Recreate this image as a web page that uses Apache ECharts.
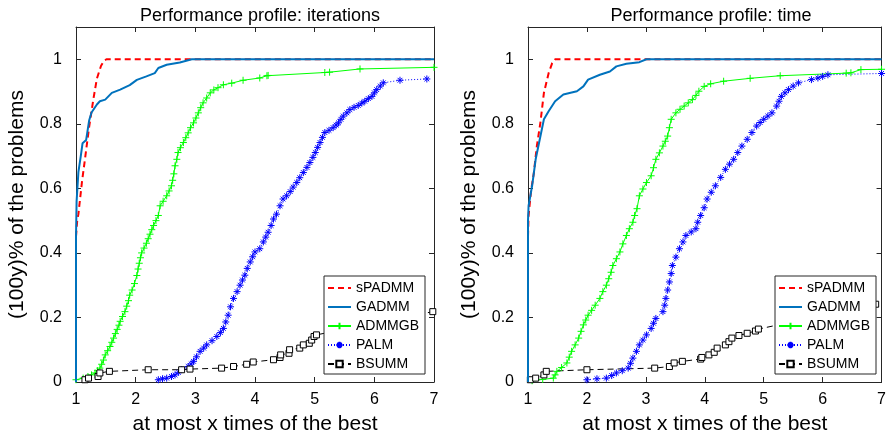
<!DOCTYPE html>
<html>
<head>
<meta charset="utf-8">
<script src="https://cdn.jsdelivr.net/npm/echarts@6/dist/echarts.min.js"></script>
<style>html,body{margin:0;padding:0;background:#fff}#c{width:889px;height:440px}</style>
</head>
<body>
<div id="c"></div>
<script>
// ---------- data ----------
const seriesNames = ['sPADMM', 'GADMM', 'ADMMGB', 'PALM', 'BSUMM'];
const xTickLabels = ['1', '2', '3', '4', '5', '6', '7'];
const yTickLabels = ['0', '0.2', '0.4', '0.6', '0.8', '1'];
const panelTitles = ['Performance profile: iterations', 'Performance profile: time'];

// iterations panel
const itSPADMM = [[1,0.45],[1.02,0.50],[1.04,0.52],[1.07,0.57],[1.10,0.62],[1.15,0.69],[1.22,0.79],[1.29,0.875],[1.35,0.94],[1.42,0.98],[1.47,0.995],[1.51,1],[7,1]];
const itGADMM = [[1,0],[1,0.45],[1.01,0.56],[1.04,0.65],[1.08,0.70],[1.11,0.74],[1.17,0.75],[1.22,0.81],[1.26,0.835],[1.35,0.86],[1.40,0.87],[1.49,0.875],[1.60,0.896],[1.74,0.906],[1.90,0.92],[2.02,0.936],[2.18,0.947],[2.32,0.957],[2.38,0.973],[2.52,0.983],[2.74,0.99],[2.94,1],[7,1]];
const itADMMGB = [[1.00,0.007],[1.12,0.012],[1.20,0.017],[1.26,0.022],[1.32,0.028],[1.36,0.035],[1.40,0.043],[1.43,0.055],[1.46,0.068],[1.49,0.084],[1.53,0.097],[1.57,0.110],[1.60,0.123],[1.63,0.136],[1.66,0.150],[1.69,0.163],[1.72,0.176],[1.74,0.188],[1.78,0.203],[1.82,0.218],[1.85,0.235],[1.88,0.252],[1.90,0.269],[1.94,0.285],[1.98,0.305],[2.02,0.330],[2.04,0.350],[2.06,0.368],[2.08,0.385],[2.10,0.400],[2.14,0.415],[2.18,0.430],[2.21,0.444],[2.24,0.458],[2.27,0.472],[2.30,0.485],[2.34,0.500],[2.38,0.516],[2.41,0.546],[2.46,0.560],[2.52,0.577],[2.56,0.592],[2.60,0.608],[2.62,0.625],[2.64,0.645],[2.66,0.670],[2.69,0.690],[2.71,0.711],[2.75,0.726],[2.80,0.742],[2.84,0.757],[2.88,0.772],[2.92,0.788],[2.97,0.803],[3.01,0.818],[3.05,0.834],[3.09,0.850],[3.13,0.865],[3.19,0.880],[3.25,0.896],[3.31,0.905],[3.38,0.912],[3.47,0.921],[3.61,0.926],[3.80,0.935],[4.08,0.942],[4.20,0.949],[4.22,0.950],[5.17,0.959],[5.25,0.960],[5.76,0.970],[7.00,0.975]];
const itPALM = [[2.38,0.007],[2.45,0.010],[2.52,0.012],[2.60,0.017],[2.66,0.022],[2.72,0.030],[2.77,0.038],[2.88,0.048],[2.93,0.056],[2.97,0.064],[3.02,0.078],[3.08,0.095],[3.14,0.105],[3.19,0.115],[3.28,0.128],[3.36,0.141],[3.42,0.153],[3.47,0.166],[3.51,0.186],[3.55,0.207],[3.59,0.233],[3.64,0.259],[3.70,0.280],[3.75,0.300],[3.79,0.316],[3.83,0.331],[3.87,0.352],[3.92,0.372],[3.96,0.388],[4.00,0.403],[4.08,0.413],[4.14,0.434],[4.18,0.449],[4.22,0.464],[4.27,0.485],[4.31,0.505],[4.36,0.520],[4.42,0.546],[4.47,0.567],[4.53,0.577],[4.59,0.590],[4.64,0.604],[4.70,0.618],[4.75,0.633],[4.81,0.649],[4.87,0.665],[4.92,0.680],[4.97,0.696],[5.01,0.711],[5.05,0.727],[5.09,0.742],[5.13,0.758],[5.17,0.773],[5.24,0.780],[5.31,0.788],[5.36,0.796],[5.40,0.803],[5.44,0.814],[5.48,0.824],[5.54,0.834],[5.59,0.844],[5.66,0.851],[5.73,0.857],[5.79,0.864],[5.84,0.870],[5.90,0.878],[5.96,0.885],[6.00,0.896],[6.04,0.906],[6.10,0.917],[6.15,0.927],[6.43,0.935],[6.88,0.939]];
const itBSUMM = [[1.15,0.007],[1.21,0.012],[1.37,0.017],[1.40,0.028],[1.56,0.033],[2.21,0.038],[2.77,0.038],[2.91,0.040],[3.44,0.043],[3.64,0.048],[3.86,0.055],[3.97,0.062],[4.31,0.069],[4.42,0.076],[4.43,0.084],[4.57,0.089],[4.58,0.100],[4.75,0.105],[4.81,0.115],[4.91,0.120],[4.95,0.130],[4.99,0.141],[5.03,0.146],[6.98,0.218]];

// time panel
const tmSPADMM = [[1,0.45],[1.01,0.516],[1.05,0.59],[1.10,0.649],[1.15,0.731],[1.21,0.803],[1.27,0.896],[1.35,0.957],[1.41,0.988],[1.46,1],[7,1]];
const tmGADMM = [[1,0],[1,0.50],[1.01,0.546],[1.07,0.608],[1.13,0.69],[1.20,0.752],[1.27,0.814],[1.35,0.839],[1.46,0.87],[1.60,0.891],[1.83,0.901],[1.94,0.916],[2.02,0.937],[2.22,0.952],[2.39,0.962],[2.50,0.978],[2.67,0.986],[2.89,0.991],[3.01,1],[7,1]];
const tmADMMGB = [[1.07,0.004],[1.25,0.008],[1.43,0.012],[1.46,0.022],[1.49,0.033],[1.57,0.045],[1.66,0.059],[1.70,0.077],[1.74,0.095],[1.80,0.115],[1.86,0.136],[1.90,0.157],[1.94,0.177],[1.98,0.192],[2.02,0.207],[2.08,0.222],[2.14,0.238],[2.22,0.259],[2.27,0.280],[2.33,0.300],[2.37,0.320],[2.41,0.340],[2.44,0.361],[2.50,0.382],[2.56,0.403],[2.61,0.428],[2.67,0.454],[2.72,0.475],[2.78,0.495],[2.81,0.516],[2.85,0.537],[2.89,0.577],[2.95,0.598],[3.01,0.618],[3.09,0.639],[3.13,0.664],[3.17,0.690],[3.23,0.710],[3.29,0.731],[3.33,0.746],[3.37,0.762],[3.40,0.788],[3.43,0.814],[3.51,0.834],[3.58,0.845],[3.65,0.855],[3.72,0.865],[3.79,0.875],[3.85,0.888],[3.90,0.901],[3.99,0.916],[4.10,0.924],[4.32,0.932],[4.77,0.941],[5.28,0.949],[6.40,0.957],[6.48,0.958],[6.65,0.968],[7.00,0.969]];
const tmPALM = [[2.00,0.007],[2.17,0.010],[2.33,0.012],[2.42,0.020],[2.50,0.028],[2.60,0.035],[2.70,0.043],[2.74,0.058],[2.78,0.074],[2.84,0.095],[2.89,0.115],[2.95,0.130],[3.01,0.146],[3.09,0.166],[3.13,0.182],[3.17,0.197],[3.29,0.218],[3.32,0.238],[3.34,0.259],[3.37,0.285],[3.40,0.310],[3.43,0.336],[3.45,0.361],[3.51,0.387],[3.57,0.413],[3.63,0.434],[3.68,0.454],[3.77,0.465],[3.85,0.475],[3.88,0.495],[3.93,0.516],[3.99,0.540],[4.04,0.567],[4.11,0.588],[4.18,0.608],[4.27,0.634],[4.35,0.659],[4.42,0.675],[4.49,0.690],[4.56,0.711],[4.63,0.731],[4.72,0.752],[4.80,0.773],[4.88,0.793],[4.94,0.804],[5.00,0.814],[5.07,0.824],[5.14,0.834],[5.22,0.855],[5.26,0.870],[5.30,0.885],[5.36,0.896],[5.42,0.906],[5.50,0.917],[5.59,0.927],[5.81,0.937],[5.92,0.942],[6.00,0.947],[6.09,0.952],[7.00,0.956]];
const tmBSUMM = [[1.04,0.007],[1.13,0.012],[1.27,0.022],[1.31,0.033],[2.00,0.038],[3.15,0.043],[3.40,0.048],[3.48,0.059],[3.62,0.064],[3.93,0.071],[3.95,0.076],[4.07,0.084],[4.16,0.092],[4.21,0.105],[4.35,0.115],[4.41,0.125],[4.46,0.136],[4.58,0.144],[4.72,0.151],[4.86,0.158],[4.91,0.164],[6.90,0.241]];

const panels = [
  [itSPADMM, itGADMM, itADMMGB, itPALM, itBSUMM],
  [tmSPADMM, tmGADMM, tmADMMGB, tmPALM, tmBSUMM]
];

// ---------- styling ----------
const FONT = "'Liberation Sans', Arial, sans-serif";
const AX = '#262626';
const grids = [
  {left: 76, top: 27, width: 358, height: 357},
  {left: 528, top: 27, width: 356, height: 357}
];
const legendPos = [{left: 324, top: 276}, {left: 775, top: 276}];

const PLUS = 'path://M5,0L5,10M0,5L10,5';
const STAR = 'path://M5,0L5,10M0,5L10,5M1.6,1.6L8.4,8.4M8.4,1.6L1.6,8.4';
const SQUARE = 'path://M0,0L10,0L10,10L0,10Z';

function styleFor(k) {
  switch (k) {
    case 0: return {symbol: 'none', color: '#ff0000', lineStyle: {color: '#ff0000', width: 2, type: [6, 4]}};
    case 1: return {symbol: 'none', color: '#0072bd', lineStyle: {color: '#0072bd', width: 2}};
    case 2: return {symbol: PLUS, symbolSize: 7, color: '#00ff00', lineStyle: {color: '#00ff00', width: 1},
                    itemStyle: {color: '#00ff00', borderColor: '#00ff00', borderWidth: 1}};
    case 3: return {symbol: STAR, symbolSize: 7, color: '#0000ff', lineStyle: {color: '#0000ff', width: 1, type: [1, 2]},
                    itemStyle: {color: '#0000ff', borderColor: '#0000ff', borderWidth: 1}};
    case 4: return {symbol: SQUARE, symbolSize: 6, color: '#000', lineStyle: {color: '#000', width: 1, type: [6, 4]},
                    itemStyle: {color: '#fff', borderColor: '#000', borderWidth: 1}};
  }
}

const legendData = seriesNames.map((n, k) => k < 2 ? {name: n, itemStyle: {opacity: 0}} : {name: n});

const xAxes = [], yAxes = [], series = [], titles = [], legends = [];
grids.forEach((g, i) => {
  const common = {
    type: 'value', gridIndex: i, min: 1, max: 7, interval: 1,
    axisLine: {show: true, onZero: false, lineStyle: {color: AX, width: 1}},
    axisTick: {show: true, inside: true, length: 5, lineStyle: {color: AX}},
    splitLine: {show: false}
  };
  xAxes.push(Object.assign({}, common, {
    position: 'bottom',
    axisLabel: {show: true, color: '#000', fontSize: 16, fontFamily: FONT, margin: 10,
                formatter: v => xTickLabels[Math.round(v) - 1] || ''},
    name: 'at most x times of the best', nameLocation: 'middle', nameGap: 32,
    nameTextStyle: {color: '#000', fontSize: 21, fontFamily: FONT}
  }));
  xAxes.push(Object.assign({}, common, {position: 'top', axisLabel: {show: false}}));
  const ycommon = {
    type: 'value', gridIndex: i, min: 0, max: 1.1, interval: 0.2,
    axisLine: {show: true, onZero: false, lineStyle: {color: AX, width: 1}},
    axisTick: {show: true, inside: true, length: 5, lineStyle: {color: AX}},
    splitLine: {show: false}
  };
  yAxes.push(Object.assign({}, ycommon, {
    position: 'left',
    axisLabel: {show: true, color: '#000', fontSize: 16, fontFamily: FONT, margin: 14, showMaxLabel: false,
      formatter: v => { const j = Math.round(v / 0.2); return (Math.abs(v - j * 0.2) < 1e-6 && j < yTickLabels.length) ? yTickLabels[j] : ''; }},
    name: '(100y)% of the problems', nameLocation: 'middle', nameGap: 48,
    nameTextStyle: {color: '#000', fontSize: 21, fontFamily: FONT}
  }));
  yAxes.push(Object.assign({}, ycommon, {position: 'right', axisLabel: {show: false}}));

  titles.push({
    text: panelTitles[i], left: g.left + g.width / 2, top: 2, textAlign: 'center',
    textStyle: {color: '#000', fontSize: 18, fontWeight: 'normal', fontFamily: FONT}
  });
  legends.push({
    data: legendData, orient: 'vertical', left: legendPos[i].left, top: legendPos[i].top,
    itemWidth: 23, itemHeight: 8, itemGap: 5, padding: [5, 6, 3, 3],
    borderColor: AX, borderWidth: 1, backgroundColor: '#fff',
    textStyle: {color: '#000', fontSize: 14, fontFamily: FONT},
    selectedMode: false
  });

  panels[i].forEach((data, k) => {
    series.push(Object.assign({
      type: 'line', name: seriesNames[k], xAxisIndex: 2 * i, yAxisIndex: 2 * i,
      data: data, showSymbol: k >= 2, z: k === 1 ? 3 : 2, animation: false, clip: true
    }, styleFor(k)));
  });
});

const chart = echarts.init(document.getElementById('c'), null, {renderer: 'canvas'});
chart.setOption({
  backgroundColor: '#fff',
  animation: false,
  title: titles,
  legend: legends,
  grid: grids,
  xAxis: xAxes,
  yAxis: yAxes,
  series: series
});
</script>
</body>
</html>
